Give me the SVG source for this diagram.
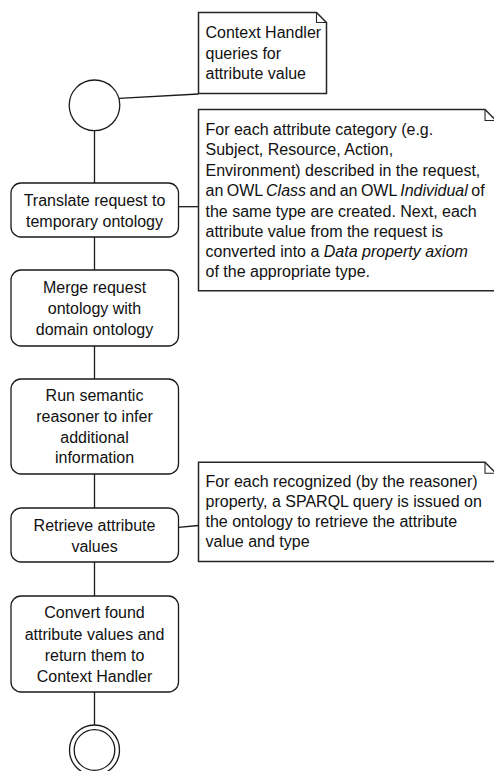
<svg xmlns="http://www.w3.org/2000/svg" width="494" height="771" viewBox="0 0 494 771">
  <style>
    .bg { fill: #ffffff; }
    .node { fill: #ffffff; stroke: #1a1a1a; stroke-width: 1.3; }
    .note { fill: #ffffff; stroke: #262626; stroke-width: 1.5; }
    .fold { fill: none; stroke: #262626; stroke-width: 1.1; }
    .conn { fill: none; stroke: #1a1a1a; stroke-width: 1.3; }
    text { font-family: "Liberation Sans", Arial, sans-serif; font-size: 16px; fill: #111111; }
    .c { text-anchor: middle; }
    .i { font-style: italic; }
  </style>
  <rect class="bg" x="0" y="0" width="494" height="771"/>

  <g id="connectors">
    <line class="conn" x1="94.5" y1="130.5" x2="94.5" y2="183"/>
    <line class="conn" x1="94.5" y1="237" x2="94.5" y2="270"/>
    <line class="conn" x1="94.5" y1="346" x2="94.5" y2="379"/>
    <line class="conn" x1="94.5" y1="474" x2="94.5" y2="508"/>
    <line class="conn" x1="94.5" y1="562" x2="94.5" y2="596"/>
    <line class="conn" x1="94.5" y1="692" x2="94.5" y2="725"/>
    <line class="conn" x1="119" y1="98.3" x2="198.5" y2="94"/>
    <line class="conn" x1="178.5" y1="206.7" x2="198.5" y2="206.7"/>
    <line class="conn" x1="178.5" y1="527.3" x2="198.5" y2="525.5"/>
  </g>

  <g id="start">
    <circle class="node" cx="94.5" cy="105.3" r="25.3"/>
  </g>

  <g id="note-context">
    <path class="note" d="M198.5,12.5 H316.5 L326.5,22.5 V93.5 H198.5 Z"/>
    <path class="fold" d="M316.5,12.5 V22.5 H326.5"/>
    <text x="205.5" y="38.3">Context Handler</text>
    <text x="205.5" y="58.6">queries for</text>
    <text x="205.5" y="79">attribute value</text>
  </g>

  <g id="translate">
    <rect class="node" x="11" y="183" width="167.5" height="54" rx="10" ry="10"/>
    <text class="c" x="94.5" y="206">Translate request to</text>
    <text class="c" x="94.5" y="226.7">temporary ontology</text>
  </g>

  <g id="note-translate">
    <path class="note" d="M198.5,109.5 H485 L496,120.5 V290.7 H198.5 Z"/>
    <path class="fold" d="M485,109.5 V120.5 H496"/>
    <text x="205.5" y="135">For each attribute category (e.g.</text>
    <text x="205.5" y="155.3">Subject, Resource, Action,</text>
    <text x="205.5" y="175.6">Environment) described in the request,</text>
    <text x="205.5" y="196" word-spacing="-1">an OWL <tspan class="i">Class</tspan> and an OWL <tspan class="i">Individual</tspan> of</text>
    <text x="205.5" y="216.5">the same type are created. Next, each</text>
    <text x="205.5" y="236.7">attribute value from the request is</text>
    <text x="205.5" y="257.2">converted into a <tspan class="i">Data property axiom</tspan></text>
    <text x="205.5" y="277.3">of the appropriate type.</text>
  </g>

  <g id="merge">
    <rect class="node" x="11" y="270" width="167.5" height="76" rx="10" ry="10"/>
    <text class="c" x="94.5" y="293.3">Merge request</text>
    <text class="c" x="94.5" y="314">ontology with</text>
    <text class="c" x="94.5" y="335">domain ontology</text>
  </g>

  <g id="reason">
    <rect class="node" x="11" y="379" width="167.5" height="95" rx="10" ry="10"/>
    <text class="c" x="94.5" y="400.7">Run semantic</text>
    <text class="c" x="94.5" y="421.7">reasoner to infer</text>
    <text class="c" x="94.5" y="442.7">additional</text>
    <text class="c" x="94.5" y="463.3">information</text>
  </g>

  <g id="retrieve">
    <rect class="node" x="11" y="508" width="167.5" height="54" rx="10" ry="10"/>
    <text class="c" x="94.5" y="531">Retrieve attribute</text>
    <text class="c" x="94.5" y="551.7">values</text>
  </g>

  <g id="note-retrieve">
    <path class="note" d="M198.5,462.3 H485 L496,473.3 V561.5 H198.5 Z"/>
    <path class="fold" d="M485,462.3 V473.3 H496"/>
    <text x="205.5" y="486.7">For each recognized (by the reasoner)</text>
    <text x="205.5" y="506.7">property, a SPARQL query is issued on</text>
    <text x="205.5" y="526.7">the ontology to retrieve the attribute</text>
    <text x="205.5" y="546.7">value and type</text>
  </g>

  <g id="convert">
    <rect class="node" x="11" y="596" width="167.5" height="96" rx="10" ry="10"/>
    <text class="c" x="94.5" y="618.3">Convert found</text>
    <text class="c" x="94.5" y="640">attribute values and</text>
    <text class="c" x="94.5" y="661">return them to</text>
    <text class="c" x="94.5" y="681.7">Context Handler</text>
  </g>

  <g id="end">
    <circle class="node" cx="94.5" cy="750" r="25"/>
    <circle class="node" cx="94.5" cy="750" r="20.3"/>
  </g>
</svg>
